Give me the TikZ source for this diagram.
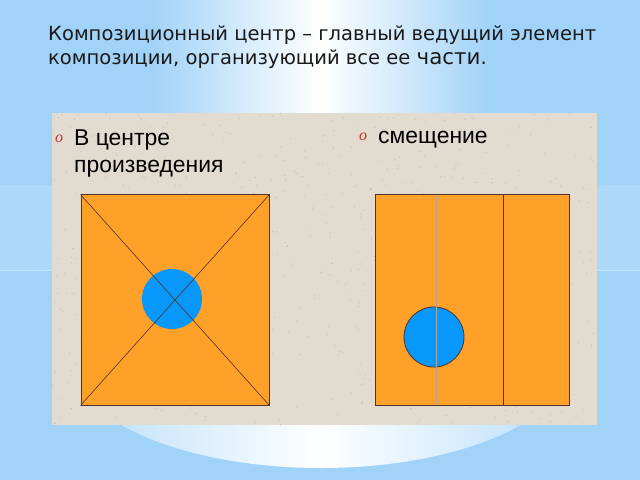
\documentclass[tikz,border=0pt]{standalone}
\usepackage{fontspec}
\setmainfont{Liberation Sans}
\newfontfamily\titlefont{DejaVu Sans}
\newfontfamily\bulletfont{Liberation Serif}
\usepackage{tikz}
\usetikzlibrary{calc}
\definecolor{bgblue}{RGB}{161,210,248}
\definecolor{bandblue}{RGB}{172,217,250}
\definecolor{lineblue}{RGB}{196,228,252}
\definecolor{glowblue}{RGB}{184,222,251}
\definecolor{paper}{RGB}{226,219,207}
\definecolor{speck}{RGB}{196,188,176}
\definecolor{orng}{RGB}{255,161,40}
\definecolor{ballblue}{RGB}{8,151,251}
\definecolor{edge}{RGB}{80,50,40}
\definecolor{greyline}{RGB}{176,164,150}
\definecolor{bulletred}{RGB}{200,50,40}
\definecolor{titlegrey}{RGB}{26,26,26}
\tikzset{
  titletext/.style={anchor=base west,inner sep=0pt,text=titlegrey,font=\titlefont\fontsize{19.6}{19.6}\selectfont},
  itemtext/.style={anchor=base west,inner sep=0pt,font=\fontsize{23}{23}\selectfont},
  itembullet/.style={anchor=base west,inner sep=0pt,text=bulletred,font=\bulletfont\itshape\fontsize{16}{16}\selectfont},
  sheet/.style={draw=edge,line width=1bp,fill=orng,inner sep=0pt},
  ball/.style={fill=ballblue}
}
\begin{document}
\begin{tikzpicture}[x=1bp,y=-1bp]
\useasboundingbox (0,0) rectangle (640,480);
\fill[bgblue] (0,0) rectangle (640,480);
\shade[left color=bgblue,right color=bgblue,middle color=white] (150,0) rectangle (490,185);
\fill[bandblue] (0,185) rectangle (640,270);
\draw[lineblue,line width=1bp] (0,270) -- (640,270);
\shade[left color=glowblue,right color=glowblue,middle color=white] (321,360) ellipse (250 and 108);
\fill[paper] (52,113) rectangle (597,425);
\pgfmathsetseed{11}
\foreach \i in {1,...,600}{
  \pgfmathsetmacro\px{52+545*rnd}
  \pgfmathsetmacro\py{113+312*rnd}
  \fill[speck] (\px,\py) circle (0.6);
}
\node[titletext] (title1) at (48,41) {Композиционный центр – главный ведущий элемент};
\node[titletext] (title2) at (48,65) {композиции, организующий все ее {\fontsize{21.5}{21.5}\selectfont части}.};
\node[itembullet] (dotL) at (55,143) {o};
\node[itemtext] (centre1) at (74,146) {В центре};
\node[itemtext] (centre2) at (74,173) {произведения};
\node[itembullet] (dotR) at (359,141) {o};
\node[itemtext] (shift) at (378,144) {смещение};
\node[sheet,minimum width=188bp,minimum height=210bp] (sqL) at (175,300) {};
\fill[ball] (172,299) circle (30);
\draw[edge,line width=0.6bp] (sqL.north west) -- (sqL.south east);
\draw[edge,line width=0.6bp] (sqL.north east) -- (sqL.south west);
\node[sheet,minimum width=194bp,minimum height=210bp] (sqR) at (472,300) {};
\filldraw[ball,draw=edge,line width=0.8bp] (434,337) circle (30);
\coordinate (gT) at (436,195);
\coordinate (gB) at (436,405);
\coordinate (dT) at (503,195);
\coordinate (dB) at (503,405);
\draw[greyline,line width=1bp] (gT) -- (gB);
\draw[edge,line width=1bp] (dT) -- (dB);
\end{tikzpicture}
\end{document}
